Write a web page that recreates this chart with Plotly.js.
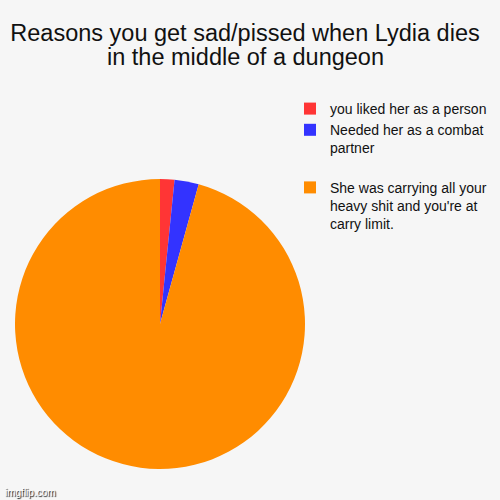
<!DOCTYPE html>
<html>
<head>
<meta charset="utf-8">
<script src="https://cdn.plot.ly/plotly-3.0.1.min.js"></script>
<style>
  html, body { margin: 0; padding: 0; background: #f6f6f6; }
  #chart { width: 500px; height: 500px; }
</style>
</head>
<body>
<div id="chart"></div>
<script>
const titleLines = [
    'Reasons you get sad/pissed when Lydia dies',
    'in the middle of a dungeon'
];
const reasons = [
    'you liked her as a person',
    'Needed her as a combat<br>partner<br> ',
    "She was carrying all your<br>heavy shit and you're at<br>carry limit."
];
const shares = [1.6, 2.7, 95.7];
const sliceColors = ['#ff3535', '#3333ff', '#ff8c00'];

const chart_data = [{
    type: 'pie',
    labels: reasons,
    values: shares,
    sort: false,
    direction: 'clockwise',
    rotation: 0,
    textinfo: 'none',
    hoverinfo: 'label+percent',
    marker: { colors: sliceColors, line: { width: 0 } },
    domain: { x: [0.03, 0.61], y: [0.062, 0.642] }
}];

const layout = {
    width: 500,
    height: 500,
    paper_bgcolor: '#f6f6f6',
    plot_bgcolor: '#f6f6f6',
    margin: { t: 0, l: 0, r: 0, b: 0 },
    font: { family: 'Liberation Sans, Arial, sans-serif', color: '#111' },
    // first title line as the layout title, second one as an annotation so
    // the line spacing can match
    title: {
        text: titleLines[0],
        font: { size: 23.5, color: '#111' },
        x: 0.49,
        xanchor: 'center',
        y: 0.934,
        yanchor: 'middle'
    },
    showlegend: true,
    legend: {
        x: 0.58,
        xanchor: 'left',
        y: 0.814,
        yanchor: 'top',
        valign: 'top',
        bgcolor: 'rgba(0,0,0,0)',
        font: { size: 14, color: '#111' }
    },
    annotations: [{
        text: titleLines[1],
        xref: 'paper', yref: 'paper',
        x: 0.49, y: 0.886,
        xanchor: 'center', yanchor: 'middle',
        showarrow: false,
        font: { size: 23.5, color: '#111' }
    }, {
        text: 'imgflip.com',
        xref: 'paper', yref: 'paper',
        x: 0.005, y: 0.0,
        xanchor: 'left', yanchor: 'bottom',
        showarrow: false,
        font: { size: 10, color: '#ffffff', shadow: '1px 1px 1px #000' }
    }]
};

Plotly.newPlot('chart', chart_data, layout, { displayModeBar: false, staticPlot: true });
</script>
</body>
</html>
